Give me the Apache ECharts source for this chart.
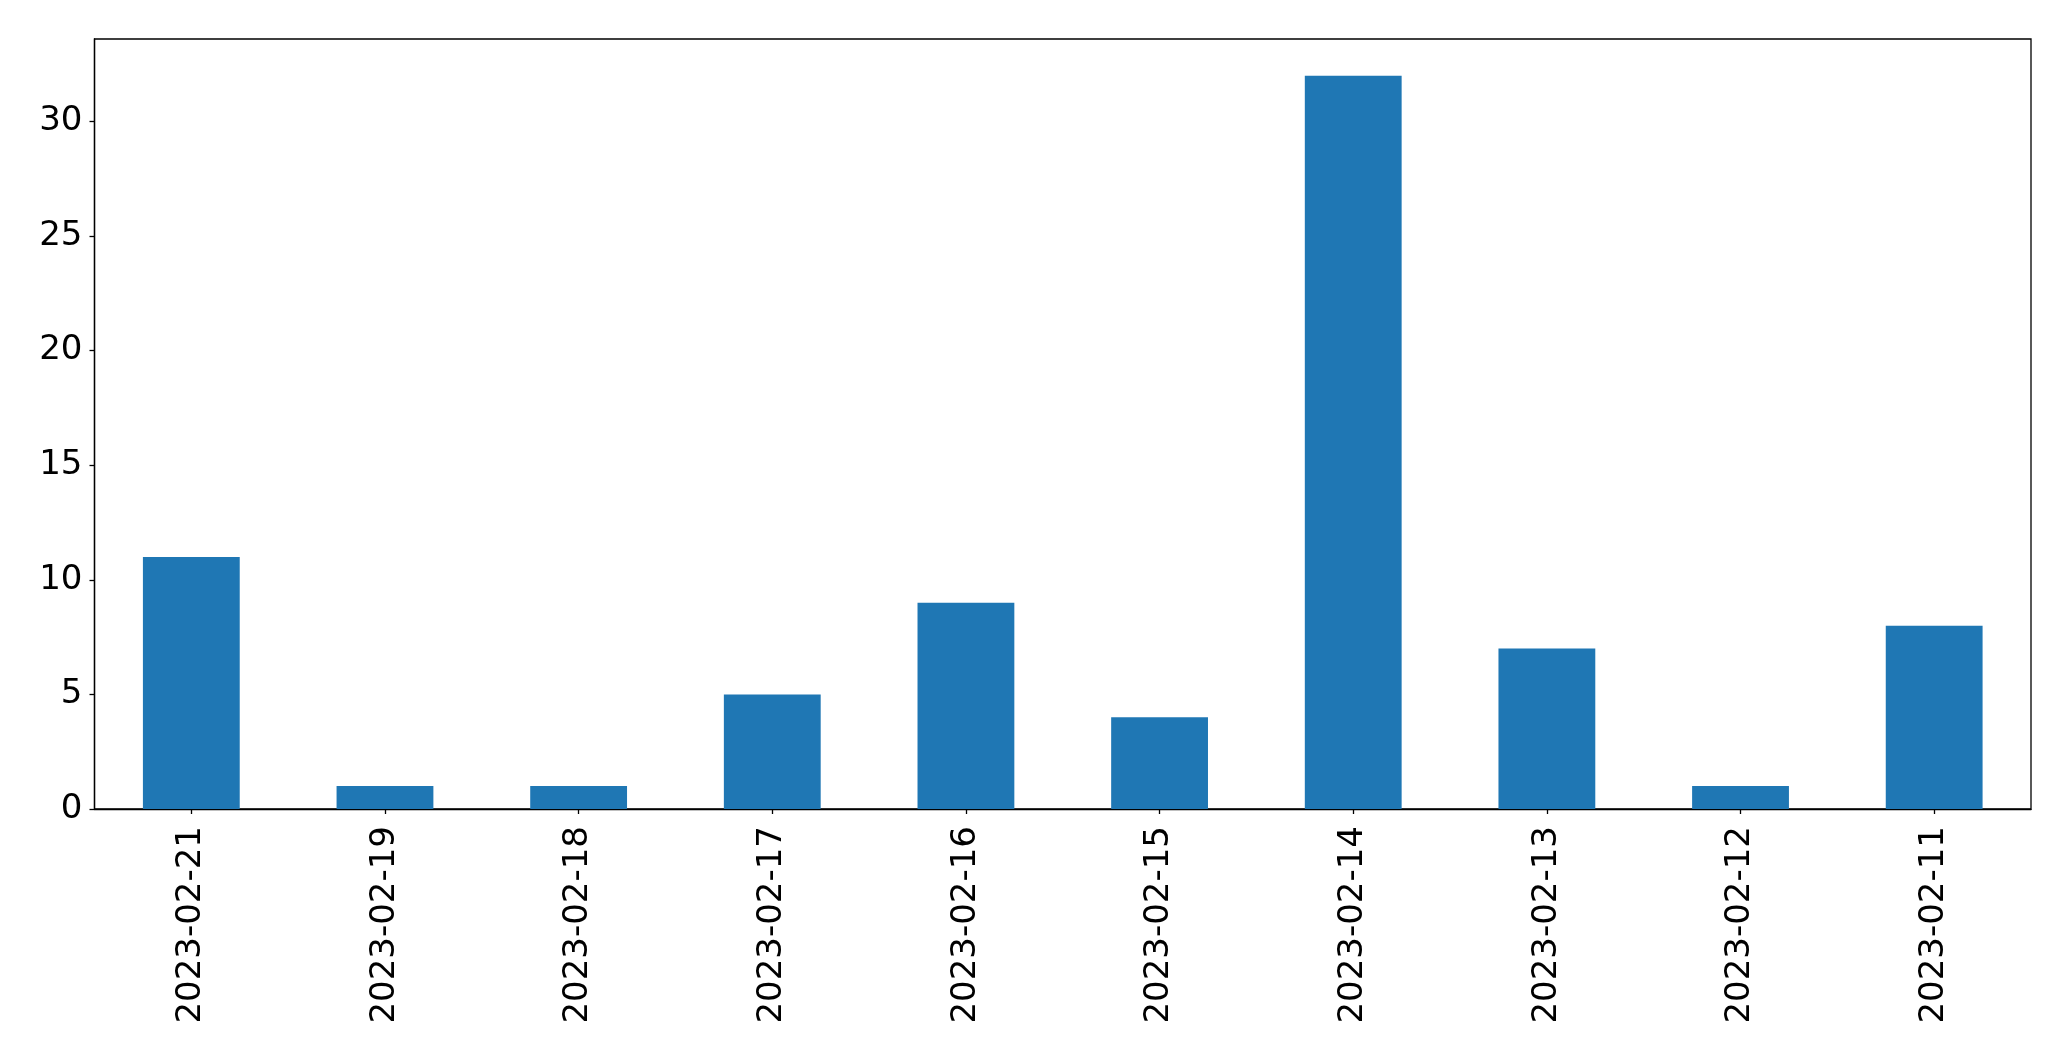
<!DOCTYPE html>
<html><head><meta charset="utf-8">
<script src="https://cdn.jsdelivr.net/npm/echarts@6/dist/echarts.min.js"></script>
<style>html,body{margin:0;padding:0;background:#fff}#c{width:2071px;height:1061px}</style>
</head><body><div id="c"></div>
<script>
const categories = ['2023-02-21','2023-02-19','2023-02-18','2023-02-17','2023-02-16','2023-02-15','2023-02-14','2023-02-13','2023-02-12','2023-02-11'];
const values = [11,1,1,5,9,4,32,7,1,8];
const yTicks = [0,5,10,15,20,25,30];
const chart = echarts.init(document.getElementById('c'), null, {renderer:'canvas'});
const font = 'DejaVu Sans';
chart.setOption({
  animation:false,
  backgroundColor:'#fff',
  grid:{left:94.5,right:40,top:39,bottom:252,containLabel:false,show:true,borderColor:'#000',borderWidth:1.3,backgroundColor:'transparent'},
  xAxis:{type:'category',data:categories,
    axisLine:{show:true,lineStyle:{color:'#000',width:1.3}},
    axisTick:{show:true,alignWithLabel:true,length:5,lineStyle:{color:'#000',width:1.3}},
    axisLabel:{rotate:90,interval:0,margin:17,color:'#000',fontFamily:font,fontSize:34},
    splitLine:{show:false}},
  yAxis:{type:'value',min:0,max:33.6,
    axisLine:{show:true,lineStyle:{color:'#000',width:1.3}},
    axisTick:{show:true,length:5,customValues:yTicks,lineStyle:{color:'#000',width:1.3}},
    axisLabel:{customValues:yTicks,margin:12,color:'#000',fontFamily:font,fontSize:34,padding:[8,0,0,0]},
    splitLine:{show:false}},
  series:[{type:'bar',data:values,barWidth:'50%',itemStyle:{color:'#1f77b4'}}]
});
</script></body></html>
